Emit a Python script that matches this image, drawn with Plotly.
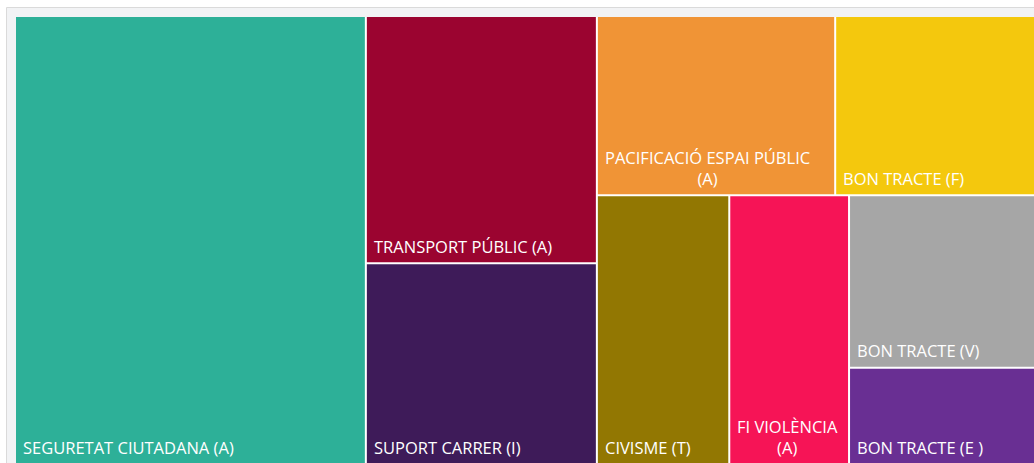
import plotly.graph_objects as go

# ---- data ----
labels = [
    "SEGURETAT CIUTADANA (A)",
    "TRANSPORT PÚBLIC (A)",
    "SUPORT CARRER (I)",
    "PACIFICACIÓ ESPAI PÚBLIC (A)",
    "BON TRACTE (F)",
    "CIVISME (T)",
    "FI VIOLÈNCIA (A)",
    "BON TRACTE (V)",
    "BON TRACTE (E )",
]
values = [1572, 571, 464, 427, 358, 356, 322, 321, 179]
colors = [
    "#2DB098", "#9B0430", "#3E1B59", "#F09436", "#F4C80D",
    "#927702", "#F61456", "#A6A6A6", "#692F93",
]

# ---- layout parameters ----
FIG_W, FIG_H = 1034, 463
TM_X0, TM_Y0, TM_X1, TM_Y1 = 15, 16, 1035, 464   # treemap area (gap centres)
GAP = 2
RATIO = 0.8
FONT = "Open Sans"
FONT_SIZE = 16.5
PAD_X, PAD_Y = 5, 2.5
CHAR_W = 8.5


def squarify(vals, x, y, w, h, ratio):
    """Squarified treemap (d3 v3 style) -> list of (x, y, w, h) per item."""
    order = sorted(range(len(vals)), key=lambda i: vals[i])  # ascending
    scale = w * h / float(sum(vals))
    area = {i: vals[i] * scale for i in order}
    rect = [x, y, w, h]
    out = [None] * len(vals)

    def worst(row, u):
        s = sum(area[i] for i in row)
        if s == 0:
            return float("inf")
        rmax = max(area[i] for i in row)
        rmin = min(area[i] for i in row)
        s2, u2 = s * s, u * u
        return max(u2 * rmax * ratio / s2, s2 / (u2 * rmin * ratio))

    def position(row, u, flush):
        s = sum(area[i] for i in row)
        rx, ry, rw, rh = rect
        if u == rw:  # strip along the top
            t = s / u
            if flush or t > rh:
                t = rh
            cx = rx
            for k, i in enumerate(row):
                wi = area[i] / t
                if k == len(row) - 1:
                    wi = rx + rw - cx
                out[i] = (cx, ry, wi, t)
                cx += wi
            rect[1] += t
            rect[3] -= t
        else:  # strip along the left
            t = s / u
            if flush or t > rw:
                t = rw
            cy = ry
            for k, i in enumerate(row):
                hi = area[i] / t
                if k == len(row) - 1:
                    hi = ry + rh - cy
                out[i] = (rx, cy, t, hi)
                cy += hi
            rect[0] += t
            rect[2] -= t

    remaining = order[:]
    row, best = [], float("inf")
    u = min(rect[2], rect[3])
    while remaining:
        row.append(remaining[-1])
        score = worst(row, u)
        if score <= best:
            remaining.pop()
            best = score
        else:
            row.pop()
            position(row, u, False)
            u = min(rect[2], rect[3])
            row, best = [], float("inf")
    if row:
        position(row, u, True)
    return out


def wrap(text, max_w):
    words = text.split(" ")
    lines, cur = [], ""
    for wd in words:
        cand = (cur + " " + wd) if cur else wd
        if not cur or len(cand) * CHAR_W <= max_w:
            cur = cand
        else:
            lines.append(cur)
            cur = wd
    lines.append(cur)
    return "<br>".join(lines)


rects = squarify(values, TM_X0, TM_Y0, TM_X1 - TM_X0, TM_Y1 - TM_Y0, RATIO)

fig = go.Figure()
annotations = []
for lab, val, col, (x, y, w, h) in zip(labels, values, colors, rects):
    x0, x1 = x + GAP / 2, x + w - GAP / 2
    y0, y1 = y + GAP / 2, y + h - GAP / 2
    fig.add_trace(go.Scatter(
        x=[x0, x1, x1, x0, x0], y=[y0, y0, y1, y1, y0],
        mode="lines", fill="toself", fillcolor=col,
        line=dict(width=0, color=col), hoveron="fills",
        name=lab, text=f"{lab}: {val}", hoverinfo="text", showlegend=False,
    ))
    annotations.append(dict(
        x=x0 + PAD_X, y=y1 - PAD_Y, xref="x", yref="y",
        xanchor="left", yanchor="bottom", align="center",
        text=wrap(lab, (x1 - x0) - 2 * (PAD_X + 2)), showarrow=False,
        font=dict(family=FONT, size=FONT_SIZE, color="white"),
    ))

shapes = [
    dict(type="rect", xref="x", yref="y", x0=6.5, y0=7.5, x1=FIG_W + 20, y1=FIG_H + 20,
         line=dict(color="#DADADA", width=1), fillcolor="#F2F3F5", layer="below"),
    dict(type="rect", xref="x", yref="y", x0=TM_X0 + GAP / 2, y0=TM_Y0 + GAP / 2,
         x1=TM_X1 - GAP / 2, y1=TM_Y1 - GAP / 2,
         line=dict(width=0), fillcolor="white", layer="below"),
]

fig.update_layout(
    width=FIG_W, height=FIG_H,
    margin=dict(l=0, r=0, t=0, b=0),
    paper_bgcolor="white", plot_bgcolor="white",
    xaxis=dict(range=[0, FIG_W], visible=False, fixedrange=True),
    yaxis=dict(range=[FIG_H, 0], visible=False, fixedrange=True),
    shapes=shapes, annotations=annotations,
    hovermode="closest",
)

fig.write_html(
    "out.html",
    config={"displayModeBar": False},
    post_script="document.body.style.margin='0';document.body.style.overflow='hidden';",
)
